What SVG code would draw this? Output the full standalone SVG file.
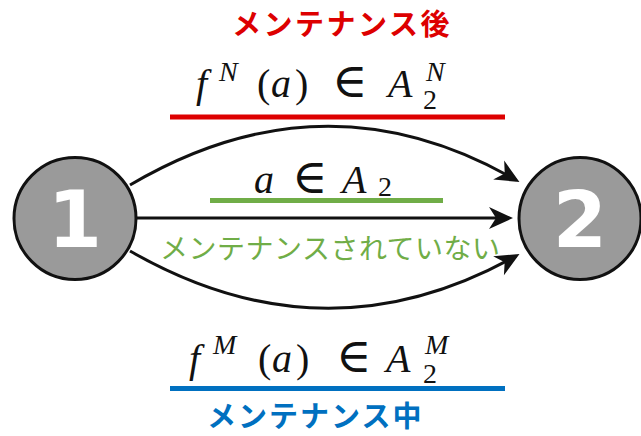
<svg xmlns="http://www.w3.org/2000/svg" width="641" height="436" viewBox="0 0 641 436">
<style>
.edge{fill:none;stroke:#111;stroke-width:3;marker-end:url(#ah)}
.node{fill:#9a9a9a;stroke:#111;stroke-width:3}
.num{font-family:"DejaVu Sans",sans-serif;font-weight:bold;font-size:78px;fill:#fff;text-anchor:middle}
.m{font-family:"Liberation Serif","DejaVu Serif",serif;font-size:40px;fill:#111}
.i{font-style:italic}
.s{font-size:28px}
.e{font-family:"DejaVu Serif",serif;font-size:48px}
.jp{font-family:"Noto Sans CJK JP","Noto Sans",sans-serif}
</style>
<defs>
<marker id="ah" markerUnits="userSpaceOnUse" viewBox="-22 -12 28 24" markerWidth="28" markerHeight="24" refX="0" refY="0" orient="auto">
<path d="M4,0 L-20,-11 L-13,0 L-20,11 Z" fill="#111"/>
</marker>
</defs>
<rect width="641" height="436" fill="#fff"/>
<g id="connectors">
<path class="edge" d="M130,185 Q325,70 516,180"/>
<path class="edge" d="M137,218 L509,218"/>
<path class="edge" d="M130,251 Q325,363 516,256"/>
</g>
<g id="node1">
<circle class="node" cx="75" cy="218.5" r="61"/>
<text class="num" x="75" y="247">1</text>
</g>
<g id="node2">
<circle class="node" cx="580" cy="218.5" r="61"/>
<text class="num" x="580" y="247">2</text>
</g>
<g id="label-after">
<text class="jp" x="232" y="35" font-size="29" font-weight="bold" letter-spacing="2.5" fill="#dd0000">メンテナンス後</text>
<text class="m"><tspan class="i" x="196" y="97">f</tspan><tspan class="i s" x="219" y="81">N</tspan><tspan x="257" y="97">(</tspan><tspan class="i" x="271" y="97">a</tspan><tspan x="295" y="97">)</tspan><tspan class="e" x="332" y="97">∈</tspan><tspan class="i" x="388" y="97">A</tspan><tspan class="i s" x="426" y="81">N</tspan><tspan class="s" x="423" y="109">2</tspan></text>
<line x1="170" y1="117" x2="505" y2="117" stroke="#dd0000" stroke-width="5"/>
</g>
<g id="label-none">
<text class="m"><tspan class="i" x="254" y="193">a</tspan><tspan class="e" x="292" y="193">∈</tspan><tspan class="i" x="342" y="193">A</tspan><tspan class="s" x="378" y="196">2</tspan></text>
<line x1="210" y1="200.5" x2="443" y2="200.5" stroke="#70ad47" stroke-width="5"/>
<text class="jp" x="160" y="259" font-size="28" letter-spacing="0.5" fill="#70ad47">メンテナンスされていない</text>
</g>
<g id="label-during">
<text class="m"><tspan class="i" x="189" y="372">f</tspan><tspan class="i s" x="213" y="354">M</tspan><tspan x="258" y="372">(</tspan><tspan class="i" x="272" y="372">a</tspan><tspan x="296" y="372">)</tspan><tspan class="e" x="336" y="372">∈</tspan><tspan class="i" x="386" y="372">A</tspan><tspan class="i s" x="425" y="354">M</tspan><tspan class="s" x="423" y="383">2</tspan></text>
<line x1="170" y1="388.5" x2="505" y2="388.5" stroke="#0070c0" stroke-width="5"/>
<text class="jp" x="207" y="427" font-size="29" font-weight="bold" letter-spacing="2" fill="#0070c0">メンテナンス中</text>
</g>
</svg>
